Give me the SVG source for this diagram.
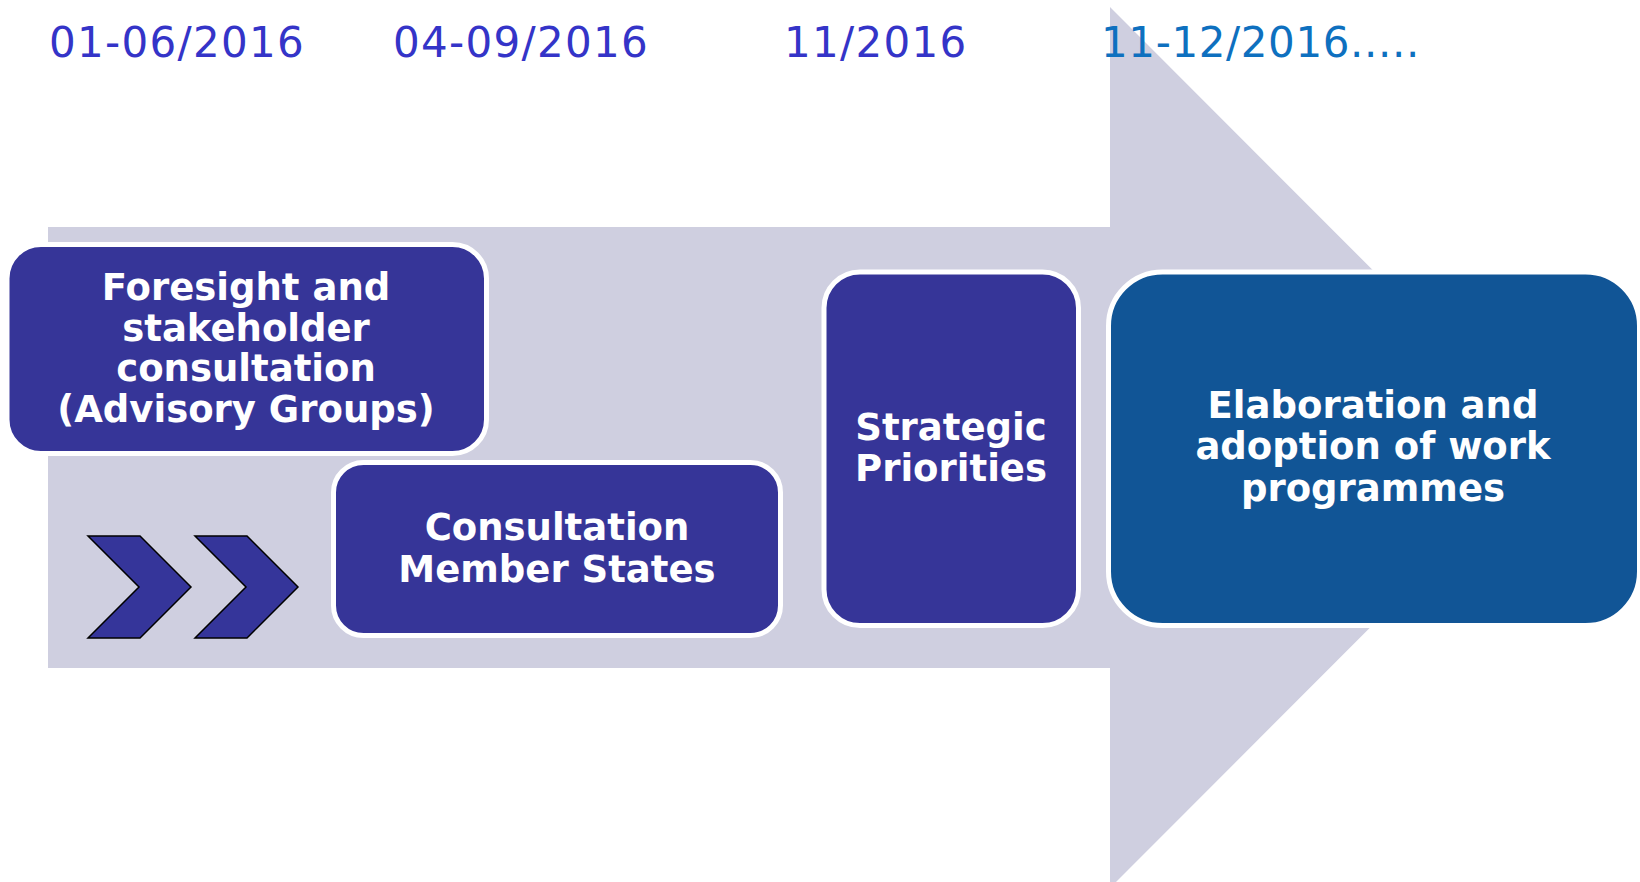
<svg xmlns="http://www.w3.org/2000/svg" width="1640" height="882" viewBox="0 0 1640 882">
<style>
.date{font-family:"DejaVu Sans","Verdana",sans-serif;font-size:42px;letter-spacing:1.3px;fill:#3434c8}
.date2{fill:#0e70bf;letter-spacing:0.6px}
.box{stroke:#ffffff;stroke-width:5}
.purple{fill:#363598}
.blue{fill:#115596}
.lbl{font-family:"DejaVu Sans","Verdana",sans-serif;font-weight:bold;font-size:37px;fill:#ffffff;text-anchor:middle}
.chev{fill:#35359a;stroke:#000000;stroke-width:1.5;stroke-linejoin:miter}
</style>
<rect width="1640" height="882" fill="#ffffff"/>
<g id="arrow">
<polygon points="48,227 1110,227 1110,7 1550,447.5 1110,888 1110,668 48,668" fill="#cfcfe0"/>
</g>
<g id="dates">
<text class="date" x="49" y="57">01-06/2016</text>
<text class="date" x="393" y="57">04-09/2016</text>
<text class="date" x="784" y="57">11/2016</text>
<text class="date date2" x="1101" y="57">11-12/2016.....</text>
</g>
<g id="connectors">
<polygon class="chev" points="88,536 140,536 191,587 140,638 88,638 139,587"/>
<polygon class="chev" points="195,536 247,536 298,587 247,638 195,638 246,587"/>
</g>
<g id="node-foresight">
<rect class="box purple" x="7" y="244.5" width="479.5" height="209" rx="34" ry="34"/>
<text class="lbl" x="246" y="300">Foresight and</text>
<text class="lbl" x="246" y="341">stakeholder</text>
<text class="lbl" x="246" y="381">consultation</text>
<text class="lbl" x="246" y="422">(Advisory Groups)</text>
</g>
<g id="node-consultation">
<rect class="box purple" x="333.5" y="462.5" width="447" height="173" rx="30" ry="30"/>
<text class="lbl" x="557" y="540">Consultation</text>
<text class="lbl" x="557" y="582">Member States</text>
</g>
<g id="node-strategic">
<rect class="box purple" x="824" y="272" width="254.5" height="353.5" rx="36" ry="36"/>
<text class="lbl" x="951" y="440">Strategic</text>
<text class="lbl" x="951" y="481">Priorities</text>
</g>
<g id="node-elaboration">
<rect class="box blue" x="1108.5" y="272" width="531" height="353.5" rx="54" ry="54"/>
<text class="lbl" x="1373" y="418">Elaboration and</text>
<text class="lbl" x="1373" y="459">adoption of work</text>
<text class="lbl" x="1373" y="501">programmes</text>
</g>
</svg>
